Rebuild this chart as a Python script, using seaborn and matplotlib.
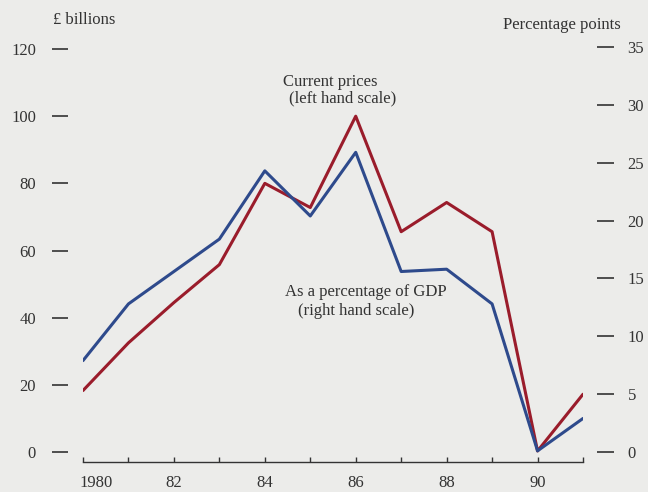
import pandas as pd
import numpy as np
import matplotlib.pyplot as plt
import matplotlib.transforms as mtransforms
import seaborn as sns

years = [1980, 1981, 1982, 1983, 1984, 1985, 1986, 1987, 1988, 1989, 1990, 1991]
current_prices = [18.3, 32.5, 44.5, 55.8, 80.0, 72.8, 100.0, 65.6, 74.3, 65.6, 0.3, 17.2]
pct_gdp = [7.9, 12.8, 15.6, 18.4, 24.3, 20.4, 25.9, 15.6, 15.8, 12.8, 0.1, 2.9]
left_ticks = [0, 20, 40, 60, 80, 100, 120]
right_ticks = [0, 5, 10, 15, 20, 25, 30, 35]
x_labels = ['1980', '', '82', '', '84', '', '86', '', '88', '', '90', '']

df = pd.DataFrame({'Year': years, 'Current': current_prices, 'Pct': pct_gdp})

bg = '#ececea'
red = '#9a1c2b'
blue = '#2e4a8c'
ink = '#333333'
fs = 12

sns.set_style('white')
plt.rcParams['font.family'] = ['Liberation Serif', 'DejaVu Serif']

fig = plt.figure(figsize=(6.48, 4.92), dpi=100, facecolor=bg)
ax = fig.add_axes([83 / 648, 30 / 492, 500 / 648, 416 / 492])
ax.set_facecolor(bg)
ax2 = ax.twinx()
ax2.patch.set_visible(False)

sns.lineplot(data=df, x='Year', y='Current', ax=ax, color=red, linewidth=2.2)
sns.lineplot(data=df, x='Year', y='Pct', ax=ax2, color=blue, linewidth=2.2)

ax.set_xlim(1980, 1991)
ax.set_ylim(-2.98, 120.9)
ax2.set_ylim(-0.864, 35.09)

for a in (ax, ax2):
    for s in ['top', 'left', 'right', 'bottom']:
        a.spines[s].set_visible(False)
    a.set_xlabel('')
    a.set_ylabel('')

# x axis: line with small upward ticks
ax.spines['bottom'].set_visible(True)
ax.spines['bottom'].set_color(ink)
ax.spines['bottom'].set_linewidth(1.0)
ax.set_xticks(years)
ax.set_xticklabels(x_labels)
ax.tick_params(axis='x', direction='in', length=3.6, width=1.0, color=ink,
               pad=9.5, labelsize=fs, labelcolor=ink, bottom=True)
first = ax.get_xticklabels()[0]
first.set_horizontalalignment('left')
first.set_transform(first.get_transform()
                    + mtransforms.ScaledTranslation(-4 / 100, 0, fig.dpi_scale_trans))

# left scale: dashes set away from the plot
ax.spines['left'].set_position(('outward', 10.8))
ax.set_yticks(left_ticks)
ax.tick_params(axis='y', direction='out', length=11.5, width=1.2, color=ink,
               pad=11.5, labelsize=fs, labelcolor=ink, left=True)

# right scale
ax2.spines['right'].set_position(('outward', 10))
ax2.set_yticks(right_ticks)
ax2.tick_params(axis='y', direction='out', length=12, width=1.2, color=ink,
                pad=10, labelsize=fs, labelcolor=ink, right=True)

fig.text(53 / 648, 1 - 20 / 492, '£ billions', fontsize=fs, color=ink, va='center', ha='left')
fig.text(503 / 648, 1 - 25 / 492, 'Percentage points', fontsize=fs, color=ink, va='center', ha='left')
fig.text(283 / 648, 1 - 82 / 492, 'Current prices', fontsize=fs, color=ink, va='center', ha='left')
fig.text(289 / 648, 1 - 98 / 492, '(left hand scale)', fontsize=fs, color=ink, va='center', ha='left')
fig.text(285 / 648, 1 - 292 / 492, 'As a percentage of GDP', fontsize=fs, color=ink, va='center', ha='left')
fig.text(298 / 648, 1 - 311 / 492, '(right hand scale)', fontsize=fs, color=ink, va='center', ha='left')

fig.savefig('out.png', dpi=100, facecolor=bg)
